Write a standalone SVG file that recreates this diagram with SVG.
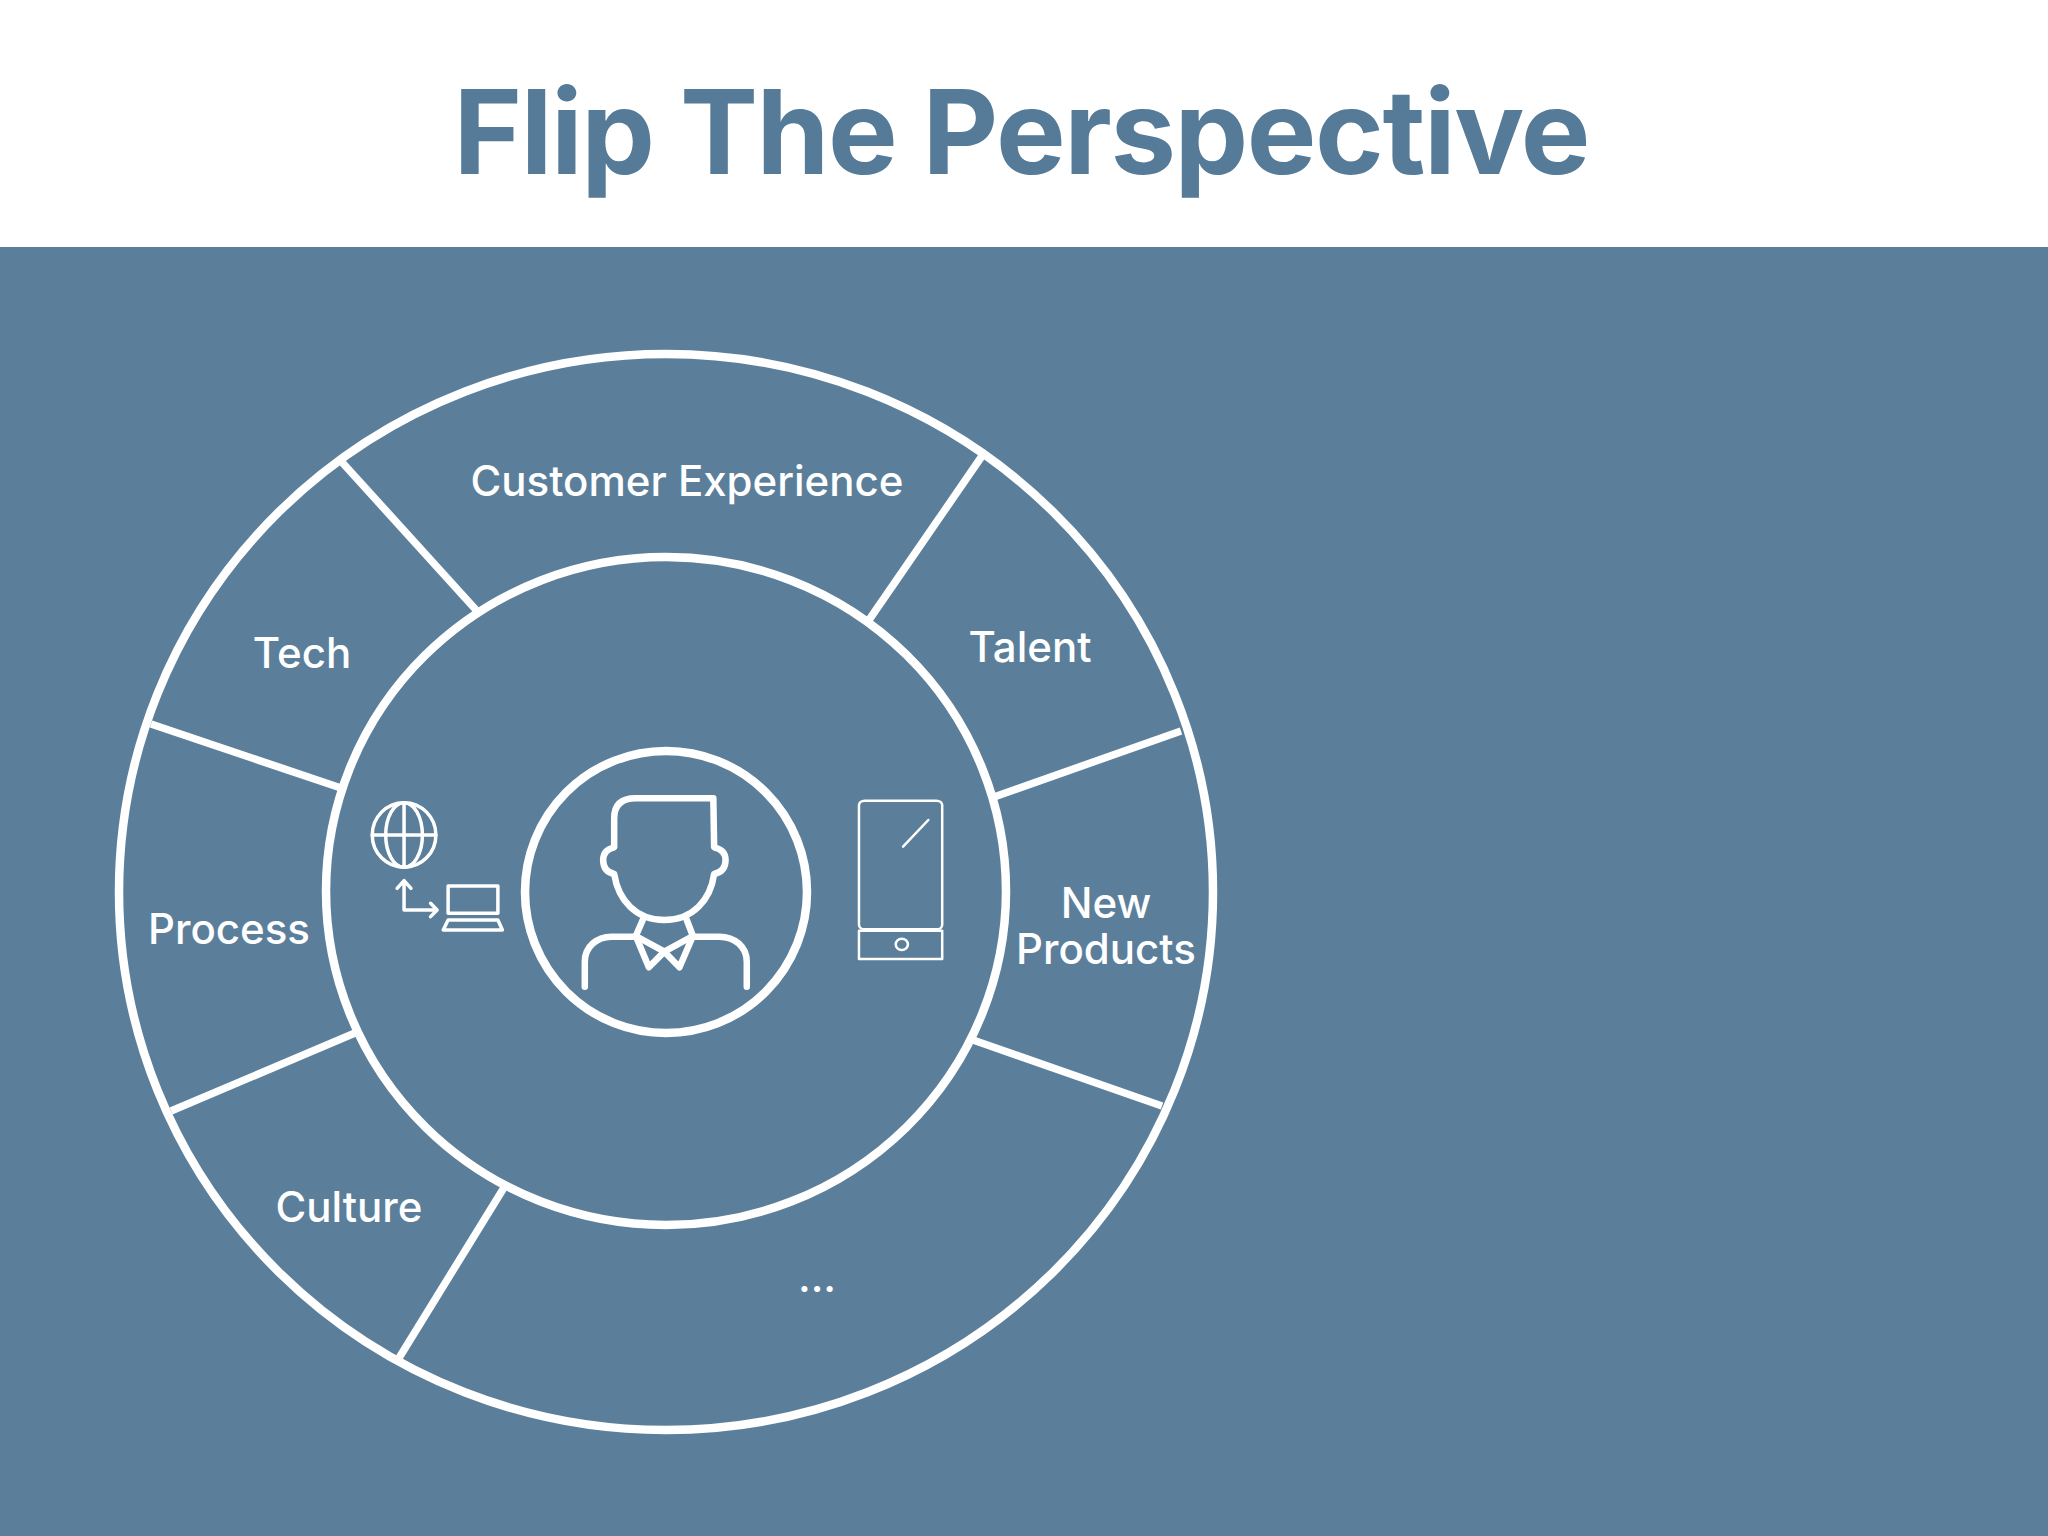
<svg xmlns="http://www.w3.org/2000/svg" width="2048" height="1536" viewBox="0 0 2048 1536">
<style>
.ring{fill:none;stroke:#fff;stroke-width:8.5}
.lbl{font-family:"Inter","Liberation Sans",sans-serif;font-size:42px;font-weight:500;fill:#fff;text-anchor:middle}
.ic{fill:none;stroke:#fff;vector-effect:non-scaling-stroke;stroke-linejoin:round;stroke-linecap:round}
</style>
<rect width="2048" height="1536" fill="#fff"/>
<rect y="247" width="2048" height="1289" fill="#5b7f9b"/>
<text id="title" x="1022" y="174" text-anchor="middle" font-family="Inter,'Liberation Sans',sans-serif" font-weight="700" font-size="117" fill="#567b99" textLength="1137">Flip The Perspective</text>
<g id="wheel">
<ellipse class="ring" cx="666" cy="892" rx="547" ry="538"/>
<ellipse class="ring" cx="666" cy="891" rx="340" ry="334"/>
</g>
<g id="connectors" stroke="#fff" stroke-width="7.5" fill="none">
<line x1="340" y1="460" x2="477" y2="611"/>
<line x1="982" y1="456" x2="869" y2="620"/>
<line x1="1181" y1="731" x2="994" y2="797"/>
<line x1="1162" y1="1106" x2="973" y2="1040"/>
<line x1="399" y1="1358" x2="505" y2="1186"/>
<line x1="171" y1="1111" x2="355" y2="1033"/>
<line x1="151" y1="724" x2="341" y2="788"/>
</g>
<g id="customer-experience"><text class="lbl" x="687" y="496">Customer Experience</text></g>
<g id="tech"><text class="lbl" x="302" y="668">Tech</text></g>
<g id="talent"><text class="lbl" x="1030" y="662">Talent</text></g>
<g id="new-products"><text class="lbl" x="1106" y="918">New</text><text class="lbl" x="1106" y="964">Products</text></g>
<g id="process"><text class="lbl" x="229" y="944">Process</text></g>
<g id="culture"><text class="lbl" x="349" y="1222">Culture</text></g>
<g id="more"><text class="lbl" x="817" y="1292">...</text></g>
<g id="person">
<ellipse class="ring" cx="666" cy="892" rx="141" ry="141"/>
<g transform="translate(340 720) scale(.408 .3333)">
<g class="ic" style="stroke-width:6.5">
<path class="ic" d="M915 235H725Q672 235 672 295V382Q645 390 645 420Q645 455 672 462C682 540 725 600 795 600C865 600 908 540 917 462Q945 455 945 420Q945 390 917 382Z"/>
<path class="ic" d="M742 600L725 648L795 695L865 648L850 600"/>
<path class="ic" d="M725 648L757 742L795 695L832 742L865 648"/>
<path class="ic" d="M725 650H665C630 650 600 680 600 725V800M865 650H930C967 650 997 680 997 725V800"/>
</g>
</g>
</g>
<g id="globe-laptop" transform="translate(340 720) scale(.408 .3333)">
<g class="ic" style="stroke-width:3.5">
<ellipse class="ic" cx="157" cy="345" rx="78" ry="97"/>
<ellipse class="ic" cx="157" cy="345" rx="45" ry="97"/>
<path class="ic" d="M157 248V442M79 345H235"/>
<path class="ic" d="M157 485V570H235M140 505L157 482L174 505M222 550L238 570L222 590"/>
<path class="ic" d="M265 498H387V580H265ZM265 600H387L398 630H253Z"/>
</g>
</g>
<g id="phone" transform="translate(340 720) scale(.408 .3333)">
<g class="ic" style="stroke-width:2.5">
<rect class="ic" x="1272" y="242" width="204" height="386" rx="14"/>
<rect class="ic" x="1272" y="632" width="204" height="85"/>
<ellipse class="ic" cx="1377" cy="673" rx="15" ry="17"/>
<path class="ic" d="M1380 380L1442 300"/>
</g>
</g>
</svg>
